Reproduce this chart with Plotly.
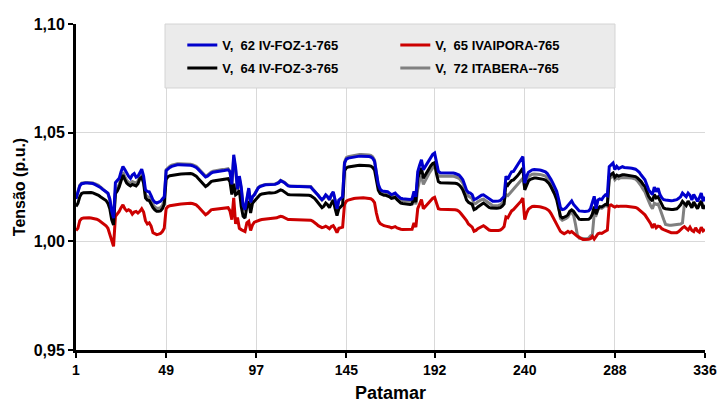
import plotly.graph_objects as go

patamar = list(range(1, 337))
x_tick_vals = [1, 49, 97, 145, 192, 240, 288, 336]
y_tick_vals = [0.95, 1.00, 1.05, 1.10]

v62_iv_foz_1 = [
    1.0195, 1.0222, 1.0255, 1.0265, 1.0268, 1.0268, 1.0268, 1.0268, 1.0268, 1.0266, 1.0262, 1.0258,
    1.0255, 1.0248, 1.0240, 1.0232, 1.0228, 1.0222, 1.0195, 1.0140, 1.0107, 1.0270, 1.0278, 1.0290,
    1.0320, 1.0344, 1.0330, 1.0312, 1.0300, 1.0290, 1.0305, 1.0312, 1.0295, 1.0300, 1.0314, 1.0332,
    1.0300, 1.0237, 1.0230, 1.0228, 1.0210, 1.0190, 1.0180, 1.0176, 1.0180, 1.0184, 1.0195, 1.0205,
    1.0325, 1.0335, 1.0340, 1.0345, 1.0348, 1.0350, 1.0352, 1.0352, 1.0352, 1.0352, 1.0352, 1.0352,
    1.0350, 1.0350, 1.0348, 1.0345, 1.0340, 1.0332, 1.0322, 1.0312, 1.0302, 1.0296, 1.0300, 1.0308,
    1.0314, 1.0318, 1.0320, 1.0321, 1.0322, 1.0324, 1.0325, 1.0326, 1.0328, 1.0329, 1.0320, 1.0262,
    1.0398, 1.0340, 1.0240, 1.0300, 1.0250, 1.0165, 1.0146, 1.0200, 1.0245, 1.0180, 1.0205, 1.0214,
    1.0230, 1.0245, 1.0252, 1.0256, 1.0258, 1.0260, 1.0260, 1.0261, 1.0260, 1.0260, 1.0262, 1.0266,
    1.0270, 1.0279, 1.0276, 1.0270, 1.0262, 1.0255, 1.0253, 1.0252, 1.0252, 1.0252, 1.0252, 1.0252,
    1.0252, 1.0252, 1.0250, 1.0250, 1.0252, 1.0250, 1.0240, 1.0232, 1.0222, 1.0212, 1.0200, 1.0192,
    1.0200, 1.0214, 1.0205, 1.0192, 1.0215, 1.0228, 1.0190, 1.0150, 1.0190, 1.0200, 1.0205, 1.0360,
    1.0378, 1.0383, 1.0385, 1.0386, 1.0388, 1.0390, 1.0391, 1.0392, 1.0392, 1.0392, 1.0391, 1.0390,
    1.0390, 1.0388, 1.0382, 1.0368, 1.0320, 1.0262, 1.0240, 1.0232, 1.0230, 1.0230, 1.0228, 1.0222,
    1.0215, 1.0218, 1.0222, 1.0212, 1.0203, 1.0198, 1.0196, 1.0195, 1.0195, 1.0194, 1.0193, 1.0195,
    1.0230, 1.0205, 1.0320, 1.0350, 1.0375, 1.0330, 1.0345, 1.0355, 1.0375, 1.0390, 1.0400, 1.0406,
    1.0360, 1.0322, 1.0316, 1.0316, 1.0316, 1.0316, 1.0315, 1.0315, 1.0315, 1.0314, 1.0312, 1.0310,
    1.0305, 1.0295, 1.0283, 1.0260, 1.0235, 1.0225, 1.0222, 1.0215, 1.0192, 1.0195, 1.0202, 1.0208,
    1.0212, 1.0214, 1.0208, 1.0200, 1.0192, 1.0186, 1.0184, 1.0184, 1.0184, 1.0185, 1.0188, 1.0195,
    1.0206, 1.0300, 1.0285, 1.0305, 1.0320, 1.0322, 1.0335, 1.0350, 1.0362, 1.0375, 1.0390, 1.0268,
    1.0300, 1.0318, 1.0325, 1.0329, 1.0330, 1.0330, 1.0329, 1.0328, 1.0326, 1.0324, 1.0320, 1.0312,
    1.0300, 1.0285, 1.0268, 1.0250, 1.0230, 1.0195, 1.0155, 1.0146, 1.0148, 1.0155, 1.0165, 1.0180,
    1.0186, 1.0170, 1.0158, 1.0150, 1.0140, 1.0138, 1.0138, 1.0137, 1.0138, 1.0140, 1.0150, 1.0175,
    1.0207, 1.0150, 1.0190, 1.0195, 1.0192, 1.0205, 1.0214, 1.0210, 1.0344, 1.0352, 1.0360, 1.0330,
    1.0345, 1.0335, 1.0340, 1.0344, 1.0340, 1.0338, 1.0337, 1.0337, 1.0336, 1.0335, 1.0332, 1.0325,
    1.0318, 1.0305, 1.0292, 1.0283, 1.0260, 1.0237, 1.0225, 1.0215, 1.0250, 1.0228, 1.0245, 1.0215,
    1.0200, 1.0192, 1.0190, 1.0188, 1.0186, 1.0187, 1.0188, 1.0190, 1.0192, 1.0198, 1.0205, 1.0222,
    1.0215, 1.0205, 1.0222, 1.0212, 1.0190, 1.0215, 1.0200, 1.0185, 1.0200, 1.0222, 1.0185, 1.0205,
]

v64_iv_foz_3 = [
    1.0160, 1.0175, 1.0205, 1.0220, 1.0224, 1.0225, 1.0225, 1.0225, 1.0225, 1.0223, 1.0220, 1.0216,
    1.0212, 1.0205, 1.0200, 1.0192, 1.0188, 1.0175, 1.0150, 1.0100, 1.0075, 1.0220, 1.0232, 1.0250,
    1.0280, 1.0305, 1.0285, 1.0268, 1.0260, 1.0255, 1.0262, 1.0258, 1.0255, 1.0265, 1.0288, 1.0295,
    1.0268, 1.0200, 1.0190, 1.0188, 1.0170, 1.0155, 1.0145, 1.0138, 1.0138, 1.0140, 1.0150, 1.0170,
    1.0285, 1.0298, 1.0302, 1.0304, 1.0305, 1.0306, 1.0308, 1.0309, 1.0310, 1.0311, 1.0312, 1.0313,
    1.0313, 1.0312, 1.0310, 1.0306, 1.0300, 1.0290, 1.0280, 1.0268, 1.0258, 1.0252, 1.0258, 1.0268,
    1.0275, 1.0278, 1.0279, 1.0280, 1.0281, 1.0282, 1.0283, 1.0284, 1.0286, 1.0288, 1.0275, 1.0215,
    1.0265, 1.0214, 1.0220, 1.0235, 1.0160, 1.0115, 1.0107, 1.0160, 1.0185, 1.0130, 1.0175, 1.0184,
    1.0195, 1.0207, 1.0214, 1.0218, 1.0220, 1.0222, 1.0222, 1.0223, 1.0222, 1.0222, 1.0224, 1.0228,
    1.0232, 1.0237, 1.0234, 1.0228, 1.0220, 1.0215, 1.0214, 1.0214, 1.0214, 1.0214, 1.0214, 1.0214,
    1.0214, 1.0213, 1.0212, 1.0212, 1.0212, 1.0210, 1.0205, 1.0198, 1.0188, 1.0178, 1.0165, 1.0155,
    1.0162, 1.0176, 1.0168, 1.0155, 1.0175, 1.0190, 1.0150, 1.0118, 1.0150, 1.0160, 1.0168, 1.0325,
    1.0338, 1.0342, 1.0344, 1.0345, 1.0347, 1.0348, 1.0349, 1.0350, 1.0350, 1.0350, 1.0349, 1.0348,
    1.0348, 1.0346, 1.0340, 1.0328, 1.0285, 1.0235, 1.0220, 1.0214, 1.0212, 1.0212, 1.0210, 1.0205,
    1.0198, 1.0200, 1.0202, 1.0192, 1.0182, 1.0176, 1.0174, 1.0172, 1.0172, 1.0171, 1.0170, 1.0172,
    1.0205, 1.0180, 1.0290, 1.0315, 1.0337, 1.0290, 1.0305, 1.0318, 1.0335, 1.0348, 1.0358, 1.0362,
    1.0310, 1.0275, 1.0270, 1.0270, 1.0270, 1.0270, 1.0269, 1.0269, 1.0268, 1.0268, 1.0267, 1.0265,
    1.0260, 1.0250, 1.0237, 1.0215, 1.0190, 1.0180, 1.0176, 1.0170, 1.0146, 1.0150, 1.0158, 1.0165,
    1.0172, 1.0176, 1.0170, 1.0162, 1.0156, 1.0153, 1.0152, 1.0152, 1.0152, 1.0153, 1.0155, 1.0162,
    1.0172, 1.0268, 1.0258, 1.0270, 1.0280, 1.0283, 1.0290, 1.0300, 1.0312, 1.0325, 1.0337, 1.0237,
    1.0260, 1.0278, 1.0285, 1.0290, 1.0291, 1.0291, 1.0290, 1.0289, 1.0287, 1.0285, 1.0282, 1.0275,
    1.0265, 1.0250, 1.0235, 1.0215, 1.0192, 1.0160, 1.0115, 1.0107, 1.0110, 1.0115, 1.0122, 1.0138,
    1.0145, 1.0138, 1.0125, 1.0112, 1.0102, 1.0100, 1.0100, 1.0100, 1.0100, 1.0101, 1.0108, 1.0125,
    1.0160, 1.0125, 1.0150, 1.0160, 1.0158, 1.0165, 1.0170, 1.0168, 1.0298, 1.0308, 1.0314, 1.0295,
    1.0305, 1.0300, 1.0305, 1.0306, 1.0306, 1.0305, 1.0304, 1.0304, 1.0303, 1.0301, 1.0298, 1.0292,
    1.0285, 1.0275, 1.0262, 1.0252, 1.0230, 1.0207, 1.0195, 1.0185, 1.0215, 1.0200, 1.0205, 1.0185,
    1.0165, 1.0153, 1.0150, 1.0148, 1.0146, 1.0146, 1.0147, 1.0148, 1.0150, 1.0158, 1.0168, 1.0184,
    1.0172, 1.0165, 1.0184, 1.0170, 1.0155, 1.0180, 1.0162, 1.0150, 1.0170, 1.0185, 1.0150, 1.0165,
]

v65_ivaipora = [
    1.0050, 1.0060, 1.0095, 1.0105, 1.0107, 1.0108, 1.0108, 1.0108, 1.0107, 1.0106, 1.0104, 1.0102,
    1.0098, 1.0092, 1.0085, 1.0078, 1.0072, 1.0060, 1.0035, 1.0010, 0.9977, 1.0115, 1.0125, 1.0138,
    1.0155, 1.0168, 1.0150, 1.0140, 1.0145, 1.0140, 1.0125, 1.0135, 1.0138, 1.0130, 1.0138, 1.0150,
    1.0135, 1.0095, 1.0080, 1.0085, 1.0070, 1.0040, 1.0035, 1.0031, 1.0033, 1.0036, 1.0045, 1.0060,
    1.0150, 1.0160, 1.0164, 1.0166, 1.0167, 1.0168, 1.0170, 1.0171, 1.0172, 1.0173, 1.0174, 1.0175,
    1.0175, 1.0175, 1.0174, 1.0172, 1.0168, 1.0160, 1.0150, 1.0140, 1.0128, 1.0122, 1.0128, 1.0138,
    1.0145, 1.0147, 1.0148, 1.0149, 1.0150, 1.0151, 1.0152, 1.0153, 1.0154, 1.0155, 1.0140, 1.0100,
    1.0200, 1.0080, 1.0110, 1.0060, 1.0054, 1.0048, 1.0045, 1.0085, 1.0092, 1.0050, 1.0075, 1.0088,
    1.0092, 1.0096, 1.0098, 1.0100, 1.0101, 1.0102, 1.0103, 1.0104, 1.0104, 1.0105, 1.0106, 1.0108,
    1.0112, 1.0115, 1.0113, 1.0108, 1.0103, 1.0100, 1.0100, 1.0100, 1.0100, 1.0100, 1.0100, 1.0100,
    1.0100, 1.0099, 1.0098, 1.0098, 1.0098, 1.0097, 1.0093, 1.0088, 1.0080, 1.0072, 1.0068, 1.0063,
    1.0065, 1.0070, 1.0065, 1.0058, 1.0068, 1.0072, 1.0058, 1.0040, 1.0060, 1.0062, 1.0065, 1.0170,
    1.0185, 1.0190, 1.0193, 1.0195, 1.0197, 1.0198, 1.0199, 1.0200, 1.0200, 1.0200, 1.0199, 1.0198,
    1.0198, 1.0196, 1.0190, 1.0178, 1.0130, 1.0095, 1.0082, 1.0075, 1.0072, 1.0070, 1.0069, 1.0066,
    1.0062, 1.0065, 1.0068, 1.0062, 1.0058, 1.0056, 1.0055, 1.0055, 1.0054, 1.0054, 1.0053, 1.0056,
    1.0085, 1.0065, 1.0150, 1.0170, 1.0192, 1.0150, 1.0160, 1.0170, 1.0182, 1.0192, 1.0198, 1.0202,
    1.0170, 1.0150, 1.0148, 1.0148, 1.0148, 1.0148, 1.0147, 1.0147, 1.0146, 1.0146, 1.0145, 1.0143,
    1.0138, 1.0128, 1.0118, 1.0105, 1.0095, 1.0080, 1.0072, 1.0065, 1.0046, 1.0050, 1.0058, 1.0064,
    1.0070, 1.0072, 1.0066, 1.0058, 1.0052, 1.0050, 1.0049, 1.0049, 1.0050, 1.0050, 1.0052, 1.0058,
    1.0068, 1.0112, 1.0108, 1.0125, 1.0140, 1.0146, 1.0155, 1.0165, 1.0175, 1.0185, 1.0199, 1.0100,
    1.0130, 1.0148, 1.0155, 1.0160, 1.0161, 1.0161, 1.0160, 1.0159, 1.0157, 1.0155, 1.0152, 1.0147,
    1.0140, 1.0128, 1.0112, 1.0095, 1.0080, 1.0062, 1.0046, 1.0040, 1.0035, 1.0040, 1.0046, 1.0040,
    1.0045, 1.0038, 1.0028, 1.0023, 1.0018, 1.0012, 1.0008, 1.0008, 1.0008, 1.0009, 1.0012, 1.0023,
    1.0010, 1.0022, 1.0035, 1.0038, 1.0036, 1.0042, 1.0048, 1.0052, 1.0165, 1.0168, 1.0162, 1.0158,
    1.0162, 1.0160, 1.0162, 1.0163, 1.0162, 1.0161, 1.0160, 1.0160, 1.0159, 1.0158, 1.0156, 1.0152,
    1.0146, 1.0138, 1.0130, 1.0122, 1.0110, 1.0098, 1.0082, 1.0062, 1.0080, 1.0062, 1.0070, 1.0068,
    1.0058, 1.0054, 1.0050, 1.0046, 1.0042, 1.0040, 1.0040, 1.0040, 1.0040, 1.0045, 1.0055, 1.0062,
    1.0068, 1.0062, 1.0052, 1.0065, 1.0050, 1.0045, 1.0062, 1.0048, 1.0042, 1.0065, 1.0048, 1.0055,
]

v72_itabera = [
    1.0198, 1.0225, 1.0258, 1.0268, 1.0271, 1.0271, 1.0271, 1.0271, 1.0271, 1.0269, 1.0265, 1.0261,
    1.0258, 1.0250, 1.0242, 1.0233, 1.0228, 1.0220, 1.0190, 1.0130, 1.0100, 1.0235, 1.0245, 1.0262,
    1.0292, 1.0318, 1.0298, 1.0280, 1.0272, 1.0266, 1.0275, 1.0272, 1.0268, 1.0278, 1.0300, 1.0310,
    1.0282, 1.0215, 1.0205, 1.0203, 1.0185, 1.0168, 1.0158, 1.0152, 1.0152, 1.0155, 1.0165, 1.0185,
    1.0330, 1.0340, 1.0345, 1.0350, 1.0353, 1.0355, 1.0357, 1.0357, 1.0357, 1.0357, 1.0357, 1.0357,
    1.0355, 1.0355, 1.0353, 1.0350, 1.0345, 1.0337, 1.0327, 1.0317, 1.0307, 1.0301, 1.0305, 1.0313,
    1.0319, 1.0323, 1.0325, 1.0326, 1.0327, 1.0329, 1.0330, 1.0331, 1.0333, 1.0334, 1.0322, 1.0255,
    1.0385, 1.0330, 1.0235, 1.0290, 1.0240, 1.0160, 1.0140, 1.0195, 1.0240, 1.0175, 1.0205, 1.0216,
    1.0232, 1.0247, 1.0254, 1.0258, 1.0260, 1.0262, 1.0262, 1.0263, 1.0262, 1.0262, 1.0264, 1.0268,
    1.0272, 1.0281, 1.0278, 1.0272, 1.0264, 1.0257, 1.0255, 1.0254, 1.0254, 1.0254, 1.0254, 1.0254,
    1.0254, 1.0254, 1.0252, 1.0252, 1.0254, 1.0252, 1.0242, 1.0232, 1.0222, 1.0210, 1.0198, 1.0190,
    1.0198, 1.0212, 1.0203, 1.0190, 1.0213, 1.0226, 1.0188, 1.0148, 1.0188, 1.0198, 1.0203, 1.0366,
    1.0385, 1.0390, 1.0392, 1.0393, 1.0395, 1.0397, 1.0398, 1.0399, 1.0399, 1.0399, 1.0398, 1.0397,
    1.0397, 1.0395, 1.0389, 1.0374, 1.0312, 1.0254, 1.0232, 1.0224, 1.0222, 1.0222, 1.0220, 1.0214,
    1.0207, 1.0210, 1.0214, 1.0204, 1.0195, 1.0190, 1.0188, 1.0187, 1.0187, 1.0186, 1.0185, 1.0187,
    1.0215, 1.0170, 1.0240, 1.0280, 1.0300, 1.0262, 1.0280, 1.0295, 1.0312, 1.0325, 1.0338, 1.0350,
    1.0320, 1.0300, 1.0301, 1.0301, 1.0301, 1.0301, 1.0300, 1.0300, 1.0300, 1.0299, 1.0297, 1.0295,
    1.0290, 1.0280, 1.0268, 1.0245, 1.0220, 1.0208, 1.0204, 1.0197, 1.0172, 1.0175, 1.0182, 1.0188,
    1.0192, 1.0194, 1.0188, 1.0180, 1.0172, 1.0166, 1.0164, 1.0164, 1.0164, 1.0165, 1.0168, 1.0175,
    1.0185, 1.0215, 1.0210, 1.0220, 1.0230, 1.0235, 1.0245, 1.0255, 1.0265, 1.0278, 1.0290, 1.0245,
    1.0280, 1.0298, 1.0305, 1.0309, 1.0310, 1.0310, 1.0309, 1.0308, 1.0306, 1.0304, 1.0300, 1.0292,
    1.0280, 1.0265, 1.0248, 1.0230, 1.0208, 1.0170, 1.0105, 1.0097, 1.0100, 1.0105, 1.0112, 1.0128,
    1.0132, 1.0120, 1.0080, 1.0030, 1.0015, 1.0013, 1.0012, 1.0012, 1.0012, 1.0014, 1.0025, 1.0030,
    1.0125, 1.0120, 1.0145, 1.0155, 1.0152, 1.0160, 1.0165, 1.0162, 1.0285, 1.0296, 1.0302, 1.0283,
    1.0293, 1.0288, 1.0293, 1.0294, 1.0294, 1.0293, 1.0292, 1.0292, 1.0291, 1.0289, 1.0286, 1.0278,
    1.0268, 1.0255, 1.0240, 1.0228, 1.0205, 1.0182, 1.0165, 1.0150, 1.0175, 1.0170, 1.0172, 1.0150,
    1.0120, 1.0100, 1.0078, 1.0075, 1.0074, 1.0074, 1.0075, 1.0076, 1.0077, 1.0078, 1.0080, 1.0085,
    1.0170, 1.0168, 1.0186, 1.0172, 1.0158, 1.0182, 1.0165, 1.0152, 1.0172, 1.0187, 1.0153, 1.0168,
]

FONT = "Liberation Sans, Arial, sans-serif"

series = [
    # (name, values, color, legend id, rank) - drawn in this order
    ("V,  72 ITABERA--765", v72_itabera, "#808080", "legend2", 2),
    ("V,  65 IVAIPORA-765", v65_ivaipora, "#CC0000", "legend", 2),
    ("V,  64 IV-FOZ-3-765", v64_iv_foz_3, "#000000", "legend2", 1),
    ("V,  62 IV-FOZ-1-765", v62_iv_foz_1, "#0000CC", "legend", 1),
]

fig = go.Figure()
for name, vals, color, leg, rank in series:
    fig.add_trace(go.Scatter(
        x=patamar, y=vals, mode="lines", name=name,
        line=dict(color=color, width=3),
        legend=leg, legendrank=rank,
    ))

# grey legend panel
fig.add_shape(
    type="rect", xref="paper", yref="paper",
    x0=0.1415, x1=0.8569, y0=0.8037, y1=1.0,
    fillcolor="#EBEBEB", line=dict(color="#D4D4D4", width=1), layer="above",
)

legend_common = dict(
    orientation="h", x=0.169, xanchor="left", yanchor="top",
    bgcolor="rgba(0,0,0,0)", borderwidth=0,
    font=dict(family=FONT, size=13, color="black", weight="bold"),
    entrywidth=168, entrywidthmode="pixels",
)

fig.update_layout(
    width=719, height=405,
    margin=dict(l=76, r=14, t=24, b=55),
    paper_bgcolor="white", plot_bgcolor="white",
    separators=",.",
    font=dict(family=FONT, color="black"),
    showlegend=True,
    legend=dict(y=0.9816, **legend_common),
    legend2=dict(y=0.911, **legend_common),
    xaxis=dict(
        range=[1, 336], tickmode="array", tickvals=x_tick_vals,
        ticktext=[str(v) for v in x_tick_vals],
        automargin=False,
        showline=True, linewidth=3, linecolor="black",
        ticks="outside", ticklen=5, tickwidth=2, tickcolor="black",
        showgrid=True, gridcolor="#D9D9D9", gridwidth=1,
        zeroline=False,
        tickfont=dict(family=FONT, size=14, color="black", weight="bold"),
        title=dict(text="Patamar", standoff=10,
                   font=dict(family=FONT, size=18, color="black", weight="bold")),
    ),
    yaxis=dict(
        range=[0.95, 1.10], tickmode="array", tickvals=y_tick_vals,
        tickformat=".2f",
        automargin=False,
        showline=True, linewidth=3, linecolor="black",
        ticks="outside", ticklen=5, tickwidth=2, tickcolor="black",
        showgrid=True, gridcolor="#D9D9D9", gridwidth=1,
        zeroline=False,
        tickfont=dict(family=FONT, size=16, color="black", weight="bold"),
        title=dict(text="Tensão (p.u.)", standoff=5,
                   font=dict(family=FONT, size=16, color="black", weight="bold")),
    ),
)

fig.write_html("out.html")
